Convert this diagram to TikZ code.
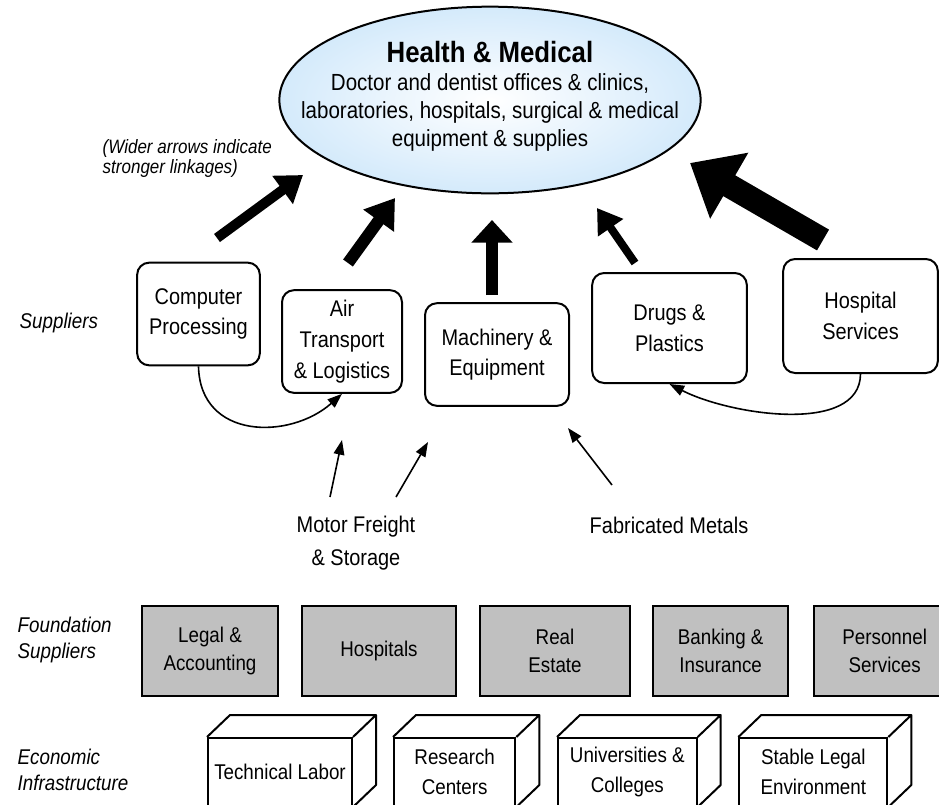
\documentclass[tikz,border=0pt]{standalone}
\usepackage{fontspec}
\setmainfont{Liberation Sans}[FakeStretch=0.88]
\usepackage{tikz}
\usetikzlibrary{arrows.meta,shapes,positioning}

\definecolor{hmblue}{RGB}{212,234,251}
\definecolor{boxgray}{RGB}{192,192,192}

\begin{document}
\begin{tikzpicture}[x=0.75pt, y=-0.75pt,
		basic/.style   = {draw, line width=1.5pt, align=center, inner sep=2pt},
		hub/.style     = {basic, ellipse, minimum width=316pt, minimum height=140pt, inner color=white, outer color=hmblue},
		supplier/.style = {basic, rounded corners=9pt, minimum height=77pt, font=\fontsize{17}{23}\selectfont},
		found/.style   = {basic, fill=boxgray, minimum height=67.5pt, font=\fontsize{16}{21}\selectfont},
		infra/.style   = {basic, minimum height=51pt, font=\fontsize{16}{22.5}\selectfont},
		tier/.style    = {anchor=west, align=left, font=\itshape\fontsize{16}{19}\selectfont},
		plain/.style   = {align=center, font=\fontsize{17}{25}\selectfont},
		link/.style    = {line width=1.2pt, -{Triangle[length=11pt, width=8pt]}},
		strong/.style n args = {3}{line width=#1, -{Triangle[length=#2, width=#3]}}]
		
		\useasboundingbox (0,0) rectangle (939,804);
		
		% the industry in the middle of the cluster
		\node[hub] (hm) at (490,100) {};
		\node[plain, font=\fontsize{17.5}{21}\selectfont] (hmtext) at (490,96) {{\fontsize{22}{26}\selectfont\bfseries Health \& Medical}\\
			Doctor and dentist offices \& clinics,\\
			laboratories, hospitals, surgical \& medical\\
			equipment \& supplies};
		
		% row of suppliers
		\node[supplier, minimum width=92pt]  (s1) at (198.5,314)  {Computer\\Processing};
		\node[supplier, minimum width=90pt]  (s2) at (342,341.5)  {Air\\Transport\\\& Logistics};
		\node[supplier, minimum width=108pt] (s3) at (497,354.5)  {Machinery \&\\Equipment};
		\node[supplier, minimum width=116pt, minimum height=82.5pt] (s4) at (669.5,328) {Drugs \&\\Plastics};
		\node[supplier, minimum width=116pt, minimum height=85.5pt] (s5) at (860.5,316) {Hospital\\Services};
		
		% second tier suppliers, plain text
		\node[plain] (mf) at (356,543) {Motor Freight\\\& Storage};
		\node[plain] (fm) at (669,525) {Fabricated Metals};
		
		% foundation suppliers, relatively positioned
		\begin{scope}[every node/.style={found}]
			\node[minimum width=102pt] (f1) at (210,651) {Legal \&\\Accounting};
			\node[minimum width=115.5pt, right=16.5pt of f1] (f2) {Hospitals};
			\node[minimum width=112.5pt, right=16.5pt of f2] (f3) {Real\\Estate};
			\node[minimum width=101pt, right=16pt of f3] (f4) {Banking \&\\Insurance};
			\node[minimum width=106pt, right=18pt of f4] (f5) {Personnel\\Services};
		\end{scope}
		
		% economic infrastructure, front faces
		\begin{scope}[every node/.style={infra}]
			\node[minimum width=108pt] (e1) at (280,772) {Technical Labor};
			\node[minimum width=91pt, right=30pt of e1] (e2) {Research\\Centers};
			\node[minimum width=104pt, right=30.5pt of e2] (e3) {Universities \&\\Colleges};
			\node[minimum width=111pt, right=30.5pt of e3] (e4) {Stable Legal\\Environment};
		\end{scope}
		
		% top and side faces of the blocks
		\foreach \n in {e1,e2,e3,e4}
		\draw[line width=1.5pt, line join=round] (\n.north west) -- ([shift={(23,-22)}]\n.north west)
			-- ([shift={(23,-22)}]\n.north east) -- (\n.north east)
			([shift={(23,-22)}]\n.north east) -- ([shift={(23,-22)}]\n.south east) -- (\n.south east);
		
		% row labels
		\node[tier] (t1) at (15,323) {Suppliers};
		\node[tier] (t2) at (13,640) {Foundation\\Suppliers};
		\node[tier] (t3) at (13,770) {Economic\\Infrastructure};
		\node[tier, font=\itshape\fontsize{14.5}{15}\selectfont] (note) at (98,158) {(Wider arrows indicate\\stronger linkages)};
		
		% ends of the wide arrows
		\coordinate (s1o) at (217,238);  \coordinate (hm1) at (303,175);
		\coordinate (s2o) at (348,263);  \coordinate (hm2) at (395,198);
		\coordinate (s3o) at (492,295);  \coordinate (hm3) at (492,220);
		\coordinate (s4o) at (635,263);  \coordinate (hm4) at (597,208);
		\coordinate (s5o) at (823,240);  \coordinate (hm5) at (690,163);
		
		% wide arrows, width by strength of the linkage
		\draw[strong={7.5pt}{19pt}{25pt}] (s1o) -- (hm1);
		\draw[strong={9pt}{21pt}{27pt}]   (s2o) -- (hm2);
		\draw[strong={9.5pt}{17pt}{30pt}] (s3o) -- (hm3);
		\draw[strong={6pt}{18pt}{22pt}]   (s4o) -- (hm4);
		\draw[strong={18pt}{34pt}{55pt}]  (s5o) -- (hm5);
		
		% links between suppliers
		\draw[link] (s1.south) .. controls (200,440) and (290,440) .. (s2.south);
		\draw[link] (s5.south) .. controls (860,435) and (730,415) .. (s4.south);
		
		% links from second tier
		\coordinate (mf1) at (330,497);  \coordinate (s2i) at (342,440);
		\coordinate (mf2) at (396,497);  \coordinate (s3i) at (428,442);
		\coordinate (fm1) at (612,485);  \coordinate (s3j) at (568,428);
		\draw[link] (mf1) -- (s2i);
		\draw[link] (mf2) -- (s3i);
		\draw[link] (fm1) -- (s3j);
		
	\end{tikzpicture}
\end{document}
